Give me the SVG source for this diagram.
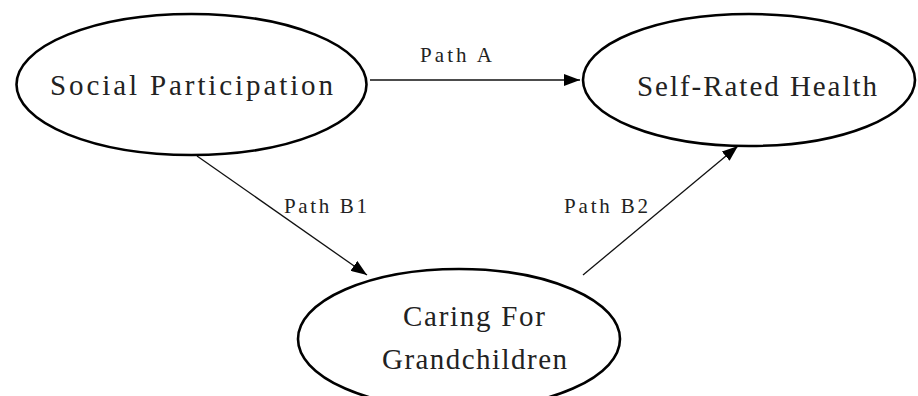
<svg xmlns="http://www.w3.org/2000/svg" width="918" height="396" viewBox="0 0 918 396">
<style>
.node{fill:#fff;stroke:#000;stroke-width:2.6}
.lbl{font-family:"Liberation Serif","DejaVu Serif",serif;font-size:29px;fill:#222}
.pl{font-family:"Liberation Serif","DejaVu Serif",serif;font-size:21px;fill:#222}
.edge{stroke:#111;stroke-width:1.3;fill:none;marker-end:url(#ah)}
</style>
<defs>
<marker id="ah" viewBox="0 0 16 12" refX="16" refY="6" markerWidth="16" markerHeight="12" markerUnits="userSpaceOnUse" orient="auto">
<path d="M0,0 L16,6 L0,12 Z" fill="#000"/>
</marker>
</defs>
<rect width="918" height="396" fill="#fff"/>
<g id="edges">
<line class="edge" x1="370" y1="80" x2="580" y2="80"/>
<line class="edge" x1="197" y1="156" x2="367" y2="275"/>
<line class="edge" x1="583" y1="275" x2="738" y2="146"/>
<text class="pl" x="420" y="62" textLength="72" lengthAdjust="spacing">Path A</text>
<text class="pl" x="284" y="213" textLength="83" lengthAdjust="spacing">Path B1</text>
<text class="pl" x="564" y="213" textLength="84" lengthAdjust="spacing">Path B2</text>
</g>
<g id="social">
<ellipse class="node" cx="191.5" cy="84.5" rx="175" ry="70.5"/>
<text class="lbl" x="50" y="95" textLength="283" lengthAdjust="spacing">Social Participation</text>
</g>
<g id="health">
<ellipse class="node" cx="749" cy="80" rx="166" ry="66"/>
<text class="lbl" x="637" y="96" textLength="240" lengthAdjust="spacing">Self-Rated Health</text>
</g>
<g id="caring">
<ellipse class="node" cx="459" cy="339" rx="161" ry="70"/>
<text class="lbl" x="403" y="326" textLength="142" lengthAdjust="spacing">Caring For</text>
<text class="lbl" x="382" y="369" textLength="185" lengthAdjust="spacing">Grandchildren</text>
</g>
</svg>
